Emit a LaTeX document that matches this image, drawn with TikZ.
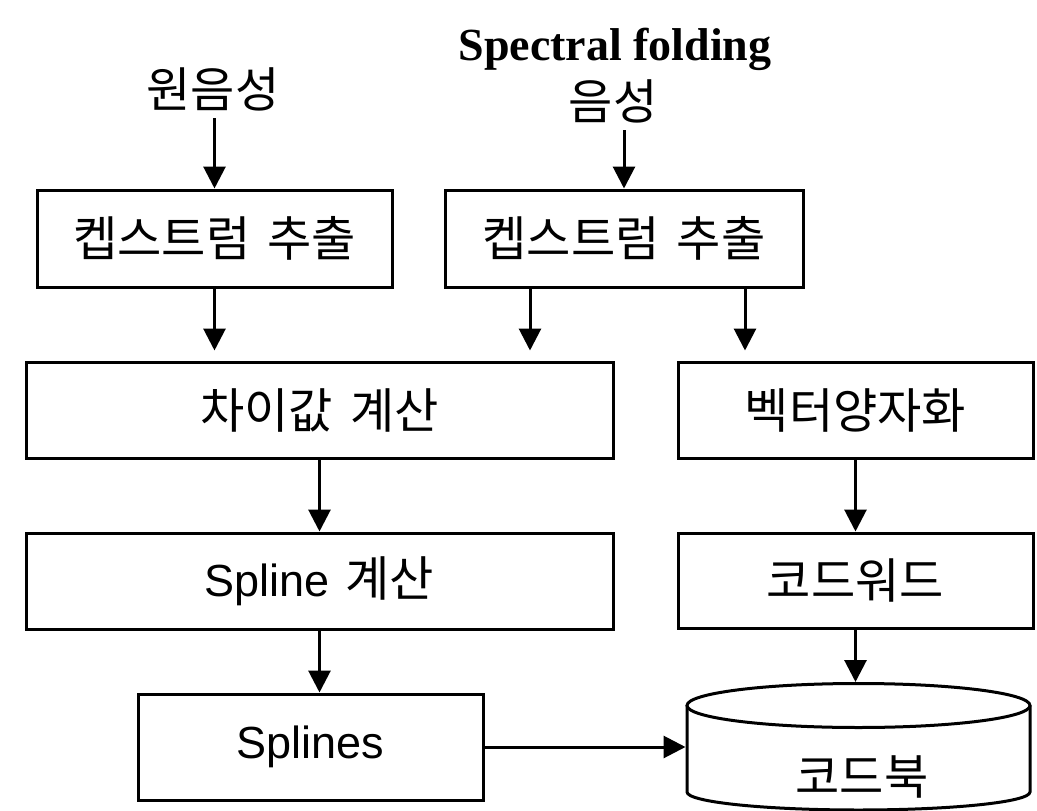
\documentclass[tikz,border=0pt]{standalone}
\usepackage{fontspec}
\setmainfont{Liberation Sans}
\newfontfamily\kr{Noto Sans CJK KR}[Scale=1.07]
\newfontfamily\ttl{Liberation Serif}
\usetikzlibrary{arrows.meta,calc}
\newcommand{\wsp}{\hspace{0.35em}}
\begin{document}
\begin{tikzpicture}[x=1pt,y=-1pt,line width=3pt,
  txt/.style={font=\fontsize{45}{54}\selectfont},
  lbl/.style={txt,inner sep=6pt},
  box/.style={txt,draw,rectangle,inner sep=0pt},
  arr/.style={-{Triangle[width=22pt,length=22pt]}}]
\useasboundingbox (0,0) rectangle (1037,811);

% labels
\node[anchor=base,font=\ttl\bfseries\fontsize{46}{54}\selectfont,inner sep=0pt] (title) at (615,60) {Spectral folding};
\node[lbl] (src1) at (213,89) {\kr 원음성};
\node[lbl] (src2) at (613,101) {\kr 음성};

% boxes
\node[box,minimum width=355pt,minimum height=97pt] (box1) at (214.5,238.5) {\kr 켑스트럼\wsp 추출};
\node[box,minimum width=358pt,minimum height=97pt] (box2) at (624,238.5) {\kr 켑스트럼\wsp 추출};
\node[box,minimum width=587pt,minimum height=96pt] (diff) at (319.5,410) {\kr 차이값\wsp 계산};
\node[box,minimum width=355pt,minimum height=96pt] (vq) at (855.5,410) {\kr 벡터양자화};
\node[box,minimum width=587pt,minimum height=96pt] (spl) at (319.5,581) {Spline\wsp{\kr 계산}};
\node[box,minimum width=355pt,minimum height=95pt] (cw) at (855.5,580.5) {\kr 코드워드};
\node[box,minimum width=345pt,minimum height=106pt] (spls) at (310.5,747) {Splines};

% codebook cylinder
\draw (858.5,705.5) ellipse [x radius=171.5pt,y radius=22pt];
\draw (687,705.5) -- (687,792) arc [start angle=180,end angle=360,x radius=171.5pt,y radius=18pt] -- (1030,705.5);
\coordinate (cbtop) at (858.5,682);
\coordinate (cbwest) at (685.5,743);
\node[txt,inner sep=0pt] (cb) at (862,777) {\kr 코드북};

% connectors
\draw[arr] (src1.south -| box1.north) -- (box1.north);
\draw[arr] (src2.south -| box2.north) -- (box2.north);
\coordinate (b1out) at (box1.south);
\coordinate (b2outL) at ($(box2.south)+(-94,0)$);
\coordinate (b2outR) at ($(box2.south)+(121,0)$);
\draw[arr,shorten >=10pt] (b1out) -- (b1out |- diff.north);
\draw[arr,shorten >=10pt] (b2outL) -- (b2outL |- diff.north);
\draw[arr,shorten >=10pt] (b2outR) -- (b2outR |- vq.north);
\draw[arr] (diff.south) -- (spl.north);
\draw[arr] (vq.south) -- (cw.north);
\draw[arr] (spl.south) -- (spl.south |- spls.north);
\draw[arr] (cw.south) -- (cw.south |- cbtop);
\draw[arr] (spls.east) -- (spls.east -| cbwest);
\end{tikzpicture}
\end{document}
